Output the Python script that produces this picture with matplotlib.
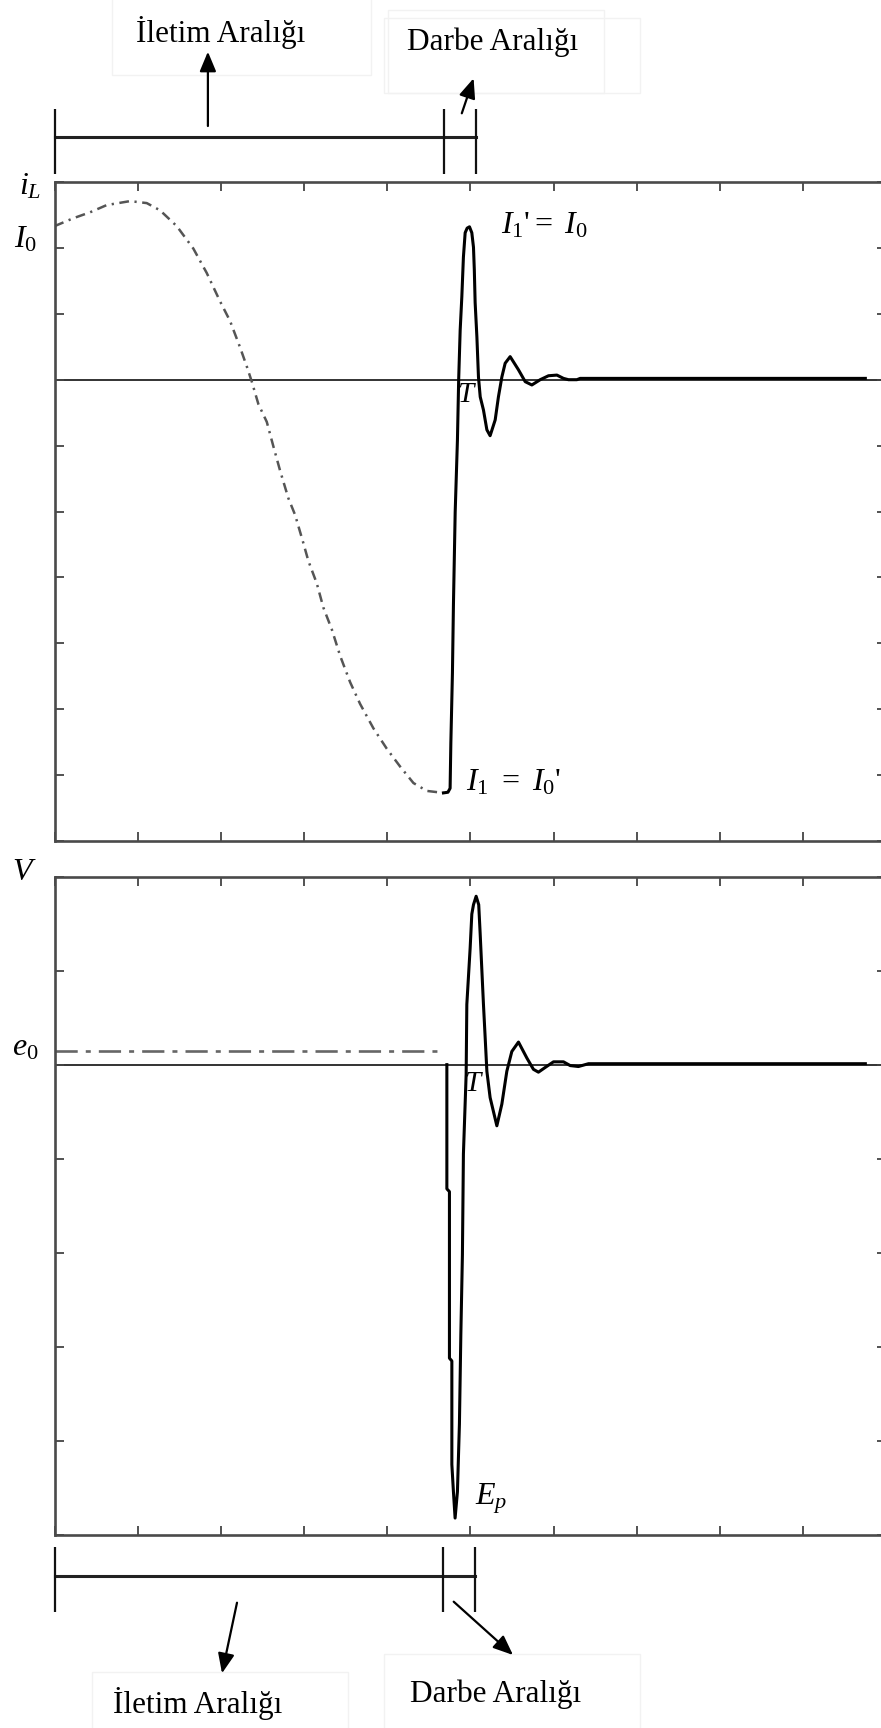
import matplotlib
matplotlib.use("Agg")
import matplotlib.pyplot as plt
from matplotlib.patches import Rectangle

plt.rcParams.update({
    "font.family": ["Liberation Serif", "DejaVu Serif"],
    "mathtext.fontset": "custom",
    "mathtext.rm": "Liberation Serif",
    "mathtext.it": "Liberation Serif:italic",
    "mathtext.bf": "Liberation Serif:bold",
    "lines.scale_dashes": False,
})

# ---------------- data (time and amplitude in grid divisions) ----------------
# inductor current, conduction interval (dash-dot, grey)
iL_cond_t = [0.0, 0.226, 0.427, 0.628, 0.908, 1.109, 1.269, 1.470, 1.669, 1.830,
             1.990, 2.111, 2.231, 2.312, 2.372, 2.451, 2.552, 2.631, 2.712, 2.812,
             2.892, 2.992, 3.052, 3.153, 3.233, 3.334, 3.434, 3.554, 3.674, 3.834,
             3.995, 4.155, 4.315, 4.476, 4.676]
iL_cond_v = [2.33, 2.45, 2.54, 2.65, 2.71, 2.68, 2.57, 2.33, 1.99, 1.62,
             1.19, 0.89, 0.49, 0.20, -0.03, -0.37, -0.64, -1.01, -1.38, -1.80,
             -2.05, -2.48, -2.75, -3.09, -3.46, -3.79, -4.19, -4.59, -4.92, -5.29,
             -5.60, -5.87, -6.12, -6.24, -6.27]

# inductor current, pulse interval (solid, black)
iL_pulse_t = [4.676, 4.730, 4.756, 4.765, 4.784, 4.796, 4.817, 4.844, 4.859, 4.877,
              4.897, 4.916, 4.937, 4.961, 4.989, 5.017, 5.037, 5.047, 5.057, 5.078,
              5.097, 5.118, 5.157, 5.198, 5.237, 5.298, 5.337, 5.378, 5.418, 5.478,
              5.578, 5.659, 5.739, 5.839, 5.939, 6.040, 6.119, 6.179, 6.280, 6.320,
              9.748]
iL_pulse_v = [-6.27, -6.26, -6.20, -5.51, -4.45, -3.42, -2.01, -0.92, 0.00, 0.75,
              1.26, 1.86, 2.23, 2.30, 2.32, 2.23, 2.01, 1.67, 1.17, 0.65,
              0.04, -0.26, -0.46, -0.76, -0.85, -0.61, -0.26, 0.04, 0.25, 0.35,
              0.15, -0.03, -0.08, 0.00, 0.06, 0.07, 0.02, 0.00, 0.00, 0.02,
              0.02]

# capacitor voltage
e0_level = 0.14
e0_end_t = 4.68
v_pulse_t = [4.717, 4.717, 4.748, 4.748, 4.777, 4.777, 4.796, 4.816, 4.844, 4.868,
             4.885, 4.904, 4.916, 4.949, 4.957, 4.997, 5.017, 5.037, 5.069, 5.100,
             5.117, 5.138, 5.157, 5.178, 5.198, 5.237, 5.318, 5.378, 5.438, 5.498,
             5.578, 5.679, 5.758, 5.818, 5.899, 5.999, 6.119, 6.200, 6.299, 6.420,
             9.748]
v_pulse_v = [0.00, -1.32, -1.35, -3.12, -3.15, -4.25, -4.54, -4.82, -4.54, -3.82,
             -2.87, -2.02, -0.95, -0.10, 0.64, 1.24, 1.60, 1.70, 1.79, 1.70,
             1.40, 1.00, 0.64, 0.28, -0.07, -0.35, -0.65, -0.42, -0.07, 0.14,
             0.24, 0.07, -0.05, -0.08, -0.03, 0.03, 0.03, -0.01, -0.02, 0.01,
             0.01]

# ---------------- figure ----------------
W, H = 881, 1728
fig = plt.figure(figsize=(W / 100, H / 100), dpi=100)
fig.patch.set_facecolor("white")


def px_axes(x0, y0, x1, y1, **kw):
    return fig.add_axes([x0 / W, 1 - y1 / H, (x1 - x0) / W, (y1 - y0) / H], **kw)


ax1 = px_axes(54.5, 182, 886.3, 841)
ax2 = px_axes(54.5, 876.5, 886.3, 1535)

for ax, (ylo, yhi) in ((ax1, (-7, 3)), (ax2, (-5, 2))):
    ax.set_xlim(0, 10)
    ax.set_ylim(ylo, yhi)
    ax.set_xticks(range(11))
    ax.set_yticks(range(ylo, yhi + 1))
    ax.tick_params(direction="in", length=6.5, width=1.3, color="#444444",
                   top=True, right=True, labelbottom=False, labelleft=False)
    for s in ax.spines.values():
        s.set_linewidth(1.9)
        s.set_color("#4a4a4a")
    ax.axhline(0, color="#333333", lw=1.4, zorder=1)

ax1.plot(iL_cond_t, iL_cond_v, color="#555555", lw=1.8,
         linestyle=(0, (7, 4, 1.6, 4)), zorder=2)
ax1.plot(iL_pulse_t, iL_pulse_v, color="black", lw=2.2,
         solid_joinstyle="round", zorder=3)

ax2.plot([0, e0_end_t], [e0_level, e0_level], color="#666666", lw=1.9,
         linestyle=(0, (16, 5.8, 3.6, 5.8)), zorder=2)
ax2.plot(v_pulse_t, v_pulse_v, color="black", lw=2.2,
         solid_joinstyle="round", zorder=3)

# ---------------- overlay for brackets, arrows and labels (pixel coords) ----------------
ov = fig.add_axes([0, 0, 1, 1], zorder=5)
ov.set_xlim(0, W)
ov.set_ylim(H, 0)
ov.axis("off")

# faint text boxes
for (x0, y0, x1, y1) in [(112, -2, 371, 75), (388, 10, 604, 93), (384, 18, 640, 93),
                         (92, 1672, 348, 1730), (384, 1654, 640, 1730)]:
    ov.add_patch(Rectangle((x0, y0), x1 - x0, y1 - y0, fill=False,
                           edgecolor="#f2f2f2", lw=1.0))

bk = dict(color="#111111", lw=1.6, solid_capstyle="butt")
# top bracket
ov.plot([54.5, 476.4], [137.3, 137.3], color="#222222", lw=2.2)
for x in (54.5, 443.8, 476.4):
    ov.plot([x, x], [109.3, 174], **bk)
# bottom bracket
ov.plot([54.5, 474.7], [1576, 1576], color="#222222", lw=2.2)
for x in (54.5, 442.7, 474.7):
    ov.plot([x, x], [1546.7, 1611.7], **bk)

ap = dict(arrowstyle="-|>,head_length=0.6,head_width=0.25", color="black",
          lw=1.6, mutation_scale=20, shrinkA=0, shrinkB=0)
ov.annotate("", xy=(207.9, 51.7), xytext=(207.9, 126), arrowprops=ap)
ov.annotate("", xy=(473.6, 78.3), xytext=(461.8, 113.3), arrowprops=ap)
ov.annotate("", xy=(222, 1673.3), xytext=(237, 1602.7), arrowprops=ap)
ov.annotate("", xy=(513, 1655), xytext=(453.7, 1601.7), arrowprops=ap)

tfs = 22.5
ov.text(220.5, 41.7, "İletim Aralığı", fontsize=tfs, ha="center", va="baseline")
ov.text(493, 50, "Darbe Aralığı", fontsize=tfs, ha="center", va="baseline")
ov.text(197.5, 1713, "İletim Aralığı", fontsize=tfs, ha="center", va="baseline")
ov.text(496, 1701.7, "Darbe Aralığı", fontsize=tfs, ha="center", va="baseline")

mfs = 23
ov.text(30, 187, r"$i_L$", fontsize=mfs, ha="center", va="center")
ov.text(26, 240, r"$I_0$", fontsize=mfs, ha="center", va="center")
ov.text(544, 226, r"$I_1$'$=$ $I_0$", fontsize=mfs, ha="center", va="center")
ov.text(514, 783, r"$I_1$ $=$ $I_0$'", fontsize=mfs, ha="center", va="center")
ov.text(467, 395, r"$T$", fontsize=21, ha="center", va="center")
ov.text(24, 873, r"$V$", fontsize=mfs, ha="center", va="center")
ov.text(25, 1048, r"$e_0$", fontsize=mfs, ha="center", va="center")
ov.text(474, 1084, r"$T$", fontsize=21, ha="center", va="center")
ov.text(491, 1499, r"$E_p$", fontsize=mfs, ha="center", va="center")

fig.savefig("out.png", dpi=100, facecolor="white")
